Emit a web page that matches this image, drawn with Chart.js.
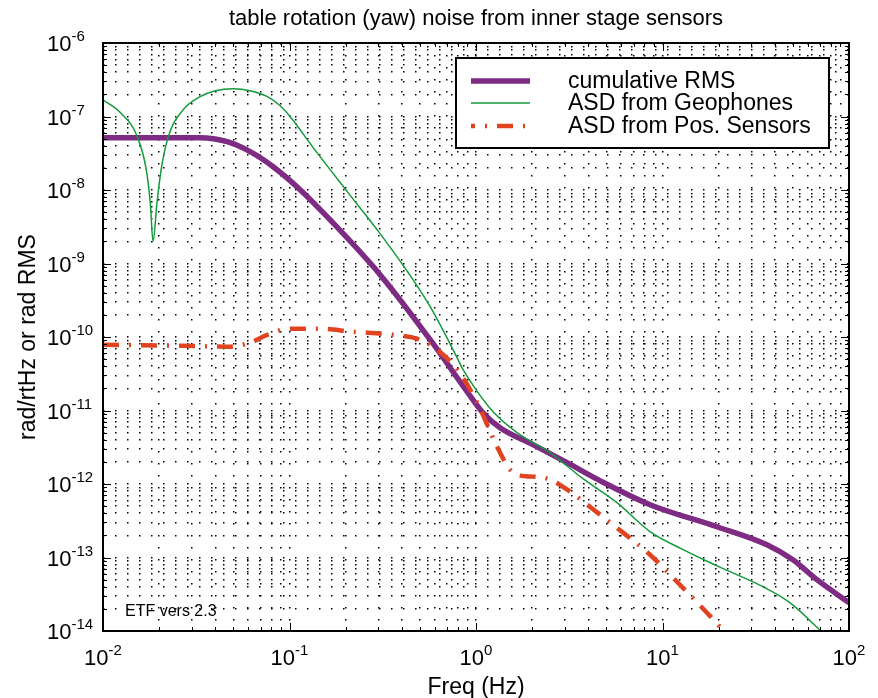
<!DOCTYPE html>
<html>
<head>
<meta charset="utf-8">
<script src="https://cdn.jsdelivr.net/npm/chart.js@4.4.1/dist/chart.umd.min.js"></script>
<style>
  html, body { margin:0; padding:0; background:#fff; }
  #wrap { width:878px; height:698px; }
</style>
</head>
<body>
<div id="wrap"><canvas id="chart"></canvas></div>
<script>
// table yaw noise, log-log
const xExp = [-2, -1, 0, 1, 2];
const yExp = [-14, -13, -12, -11, -10, -9, -8, -7, -6];

const rmsFreq = [0.01, 0.0332, 0.0463, 0.0615, 0.0817, 0.114, 0.159, 0.306, 0.589, 0.896, 1.09, 1.346, 2.02, 3.08, 4.62, 8.57, 19.6, 36.3, 50, 67.3, 100];
const rmsVals = [5.15e-8, 5.15e-8, 4.54e-8, 3.32e-8, 2.07e-8, 1.01e-8, 4.33e-9, 7.05e-10, 8.1e-11, 1.8e-11, 9.3e-12, 5.83e-12, 3.43e-12, 1.95e-12, 1.11e-12, 5.23e-13, 2.62e-13, 1.49e-13, 9.3e-14, 4.99e-14, 2.43e-14];

const geoFreq = [0.01, 0.01239, 0.01528, 0.01706, 0.01793, 0.01854, 0.01948, 0.0205, 0.02239, 0.02693, 0.0332, 0.04, 0.0499, 0.0615, 0.076, 0.0892, 0.1009, 0.134, 0.204, 0.306, 0.46, 0.568, 0.754, 0.853, 1.026, 1.235, 1.66, 2.49, 3.75, 5.7, 8.57, 12.9, 19.6, 36.3, 48.2, 71.5, 89];
const geoVals = [1.69e-7, 1.13e-7, 5.32e-8, 1.89e-8, 6.7e-9, 2.0e-9, 6.7e-9, 1.89e-8, 5.32e-8, 1.24e-7, 1.86e-7, 2.24e-7, 2.39e-7, 2.24e-7, 1.86e-7, 1.4e-7, 9.9e-8, 3.77e-8, 9.5e-9, 2.55e-9, 6.0e-10, 2.58e-10, 6.7e-11, 3.59e-11, 1.75e-11, 9.6e-12, 4.99e-12, 2.67e-12, 1.18e-12, 5.57e-13, 2.25e-13, 1.28e-13, 7.7e-14, 3.76e-14, 2.43e-14, 9.8e-15, 6e-15];

const posFreq = [0.01, 0.026, 0.0463, 0.0615, 0.076, 0.1009, 0.1406, 0.2193, 0.3594, 0.5016, 0.589, 0.794, 1.015, 1.297, 1.523, 1.723, 2.023, 2.49, 3.19, 4.08, 6.14, 8.57, 12.1, 17.3, 20.3, 26];
const posVals = [7.85e-11, 7.6e-11, 7.38e-11, 8.36e-11, 1.07e-10, 1.3e-10, 1.3e-10, 1.18e-10, 1.07e-10, 9.2e-11, 7.38e-11, 3.59e-11, 1.28e-11, 3.22e-12, 1.57e-12, 1.3e-12, 1.26e-12, 1.15e-12, 7.9e-13, 4.9e-13, 2.18e-13, 1.09e-13, 4.54e-14, 1.77e-14, 1.14e-14, 5e-15];

const seriesNames = ['cumulative RMS', 'ASD from Geophones', 'ASD from Pos. Sensors'];
const titleText = 'table rotation (yaw) noise from inner stage sensors';
const xTitle = 'Freq (Hz)';
const yTitle = 'rad/rtHz or rad RMS';
const noteText = 'ETF vers 2.3';

const FONT = '"Liberation Sans", Arial, Helvetica, sans-serif';

// 1..9 x 10^n for the dotted grid
function gridValues(exps){
  const out = [];
  for(let i=0;i<exps.length;i++){
    const d = Math.pow(10, exps[i]);
    if(i===exps.length-1){ out.push(d); break; }
    for(let m=1;m<10;m++) out.push(+(m*d).toPrecision(3));
  }
  return out;
}
const xGrid = gridValues(xExp);
const yGrid = gridValues(yExp);
const isDecade = v => Math.abs(Math.log10(v) - Math.round(Math.log10(v))) < 1e-6;

const pts = (xs, ys) => xs.map((x,i)=>({x, y: ys[i]}));

function drawPow(ctx, exp, x, y, align){
  // "10" plus raised exponent; align 'center' -> x is center, 'left' -> x is left edge
  ctx.font = '22px ' + FONT;
  const w10 = ctx.measureText('10').width;
  ctx.font = '15px ' + FONT;
  const e = String(exp);
  const we = ctx.measureText(e).width;
  const x0 = align === 'center' ? x - (w10 + we)/2 : x;
  ctx.textAlign = 'left';
  ctx.textBaseline = 'alphabetic';
  ctx.font = '22px ' + FONT;
  ctx.fillText('10', x0, y);
  ctx.font = '15px ' + FONT;
  ctx.fillText(e, x0 + w10, y - 10);
}

const frame = {
  id: 'frame',
  afterDatasetsDraw(chart){
    const {ctx, chartArea: a, scales: {x, y}} = chart;
    ctx.save();
    ctx.strokeStyle = '#000';
    ctx.lineWidth = 1;
    ctx.setLineDash([]);
    ctx.beginPath();
    xGrid.forEach(v=>{
      const px = Math.round(x.getPixelForValue(v)) + 0.5;
      const len = isDecade(v) ? 8 : 4;
      ctx.moveTo(px, a.bottom); ctx.lineTo(px, a.bottom - len);
      ctx.moveTo(px, a.top); ctx.lineTo(px, a.top + len);
    });
    yGrid.forEach(v=>{
      const py = Math.round(y.getPixelForValue(v)) + 0.5;
      const len = isDecade(v) ? 8 : 4;
      ctx.moveTo(a.left, py); ctx.lineTo(a.left + len, py);
      ctx.moveTo(a.right, py); ctx.lineTo(a.right - len, py);
    });
    ctx.stroke();
    ctx.lineWidth = 2;
    ctx.strokeRect(a.left, a.top, a.right - a.left, a.bottom - a.top);

    // legend box inside the plot
    const lx = 456, ly = 58, lw = 373, lh = 90;
    ctx.fillStyle = '#fff';
    ctx.fillRect(lx, ly, lw, lh);
    ctx.strokeRect(lx, ly, lw, lh);
    const rows = [81, 103, 126];
    chart.data.datasets.forEach((ds, i)=>{
      ctx.save();
      ctx.strokeStyle = ds.borderColor;
      ctx.lineWidth = ds.borderWidth;
      ctx.setLineDash(ds.borderDash || []);
      ctx.lineDashOffset = ds.borderDash ? 12 : 0;
      ctx.beginPath();
      ctx.moveTo(471, rows[i]); ctx.lineTo(530, rows[i]);
      ctx.stroke();
      ctx.restore();
      ctx.fillStyle = '#000';
      ctx.font = '23px ' + FONT;
      ctx.textAlign = 'left';
      ctx.textBaseline = 'middle';
      ctx.fillText(ds.label, 568, rows[i] + 1);
    });

    // tick labels
    ctx.fillStyle = '#000';
    xExp.forEach(e=>{
      drawPow(ctx, e, x.getPixelForValue(Math.pow(10, e)), 665, 'center');
    });
    yExp.forEach(e=>{
      drawPow(ctx, e, 47, y.getPixelForValue(Math.pow(10, e)) + 8, 'left');
    });

    // titles
    const cx = (a.left + a.right)/2, cy = (a.top + a.bottom)/2;
    ctx.font = '22px ' + FONT;
    ctx.textAlign = 'center';
    ctx.textBaseline = 'alphabetic';
    ctx.fillText(titleText, cx, 25);
    ctx.font = '23px ' + FONT;
    ctx.fillText(xTitle, cx, 694);
    ctx.save();
    ctx.translate(35, cy);
    ctx.rotate(-Math.PI/2);
    ctx.fillText(yTitle, 0, 0);
    ctx.restore();

    ctx.font = '16px ' + FONT;
    ctx.textAlign = 'left';
    ctx.fillText(noteText, 125, 616);
    ctx.restore();
  }
};

const gridOpts = {
  color: '#000',
  lineWidth: 1.5,
  drawTicks: false
};

new Chart(document.getElementById('chart'), {
  type: 'line',
  data: {
    datasets: [
      { label: seriesNames[0], data: pts(rmsFreq, rmsVals), borderColor: '#7e2b84', borderWidth: 5.5, order: 3 },
      { label: seriesNames[1], data: pts(geoFreq, geoVals), borderColor: '#139a3c', borderWidth: 1.5, order: 2 },
      { label: seriesNames[2], data: pts(posFreq, posVals), borderColor: '#e0431f', borderWidth: 4.5, borderDash: [16, 10, 2, 10], order: 1 }
    ]
  },
  options: {
    responsive: true,
    maintainAspectRatio: false,
    animation: false,
    events: [],
    layout: { padding: { left: 103, right: 29, top: 43, bottom: 67 } },
    elements: {
      point: { radius: 0 },
      line: { cubicInterpolationMode: 'monotone', borderCapStyle: 'butt' }
    },
    plugins: { legend: { display: false }, title: { display: false }, tooltip: { enabled: false } },
    scales: {
      x: {
        type: 'logarithmic', min: 0.01, max: 100,
        afterBuildTicks: s => { s.ticks = xGrid.map(v=>({value: v})); },
        ticks: { display: false },
        grid: gridOpts,
        border: { display: false, dash: [1.5, 10.5] }
      },
      y: {
        type: 'logarithmic', min: 1e-14, max: 1e-6,
        afterBuildTicks: s => { s.ticks = yGrid.map(v=>({value: v})); },
        ticks: { display: false },
        grid: gridOpts,
        border: { display: false, dash: [1.5, 10.5] }
      }
    }
  },
  plugins: [frame]
});
</script>
</body>
</html>
